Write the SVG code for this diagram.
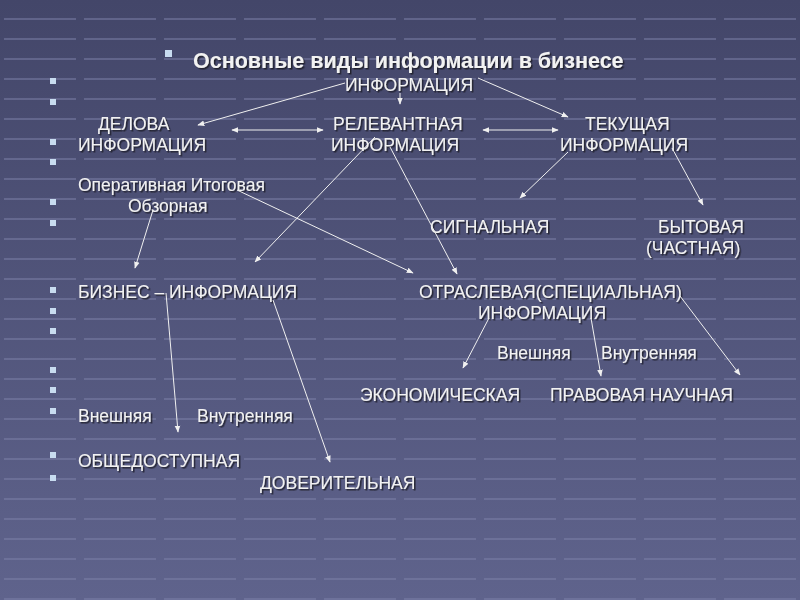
<svg xmlns="http://www.w3.org/2000/svg" width="800" height="600" viewBox="0 0 800 600">
<defs>
<linearGradient id="bg" x1="0" y1="0" x2="0" y2="1"><stop offset="0" stop-color="#434669"/><stop offset="1" stop-color="#5f638c"/></linearGradient>
<pattern id="tiles" width="80" height="20" patternUnits="userSpaceOnUse"><path d="M4 19H76" stroke="#7e82aa" stroke-width="2" opacity="0.5"/></pattern>
<marker id="ah" viewBox="0 0 10 10" refX="9" refY="5" markerWidth="7" markerHeight="7" orient="auto-start-reverse"><path d="M0 1L10 5L0 9z" fill="#f0f0f0"/></marker>
<filter id="sh"><feDropShadow dx="1.5" dy="1.5" stdDeviation="0.5" flood-color="#1a1a2a" flood-opacity="0.9"/></filter>
</defs>
<style>
text{font-family:"Liberation Sans",Arial,sans-serif;font-size:17.5px;fill:#f2f2f2;filter:url(#sh)}
.t{font-size:21.5px;font-weight:bold}
.b{fill:#c8dcf0}
.c{stroke:#f0f0f0;stroke-width:1;fill:none;marker-end:url(#ah)}
.d{marker-start:url(#ah)}
</style>
<rect width="800" height="600" fill="url(#bg)"/>
<rect width="800" height="600" fill="url(#tiles)"/>
<g id="bullets" class="b">
<rect x="165" y="50" width="7" height="7"/>
<rect x="50" y="78" width="6" height="6"/><rect x="50" y="99" width="6" height="6"/><rect x="50" y="139" width="6" height="6"/><rect x="50" y="159" width="6" height="6"/><rect x="50" y="199" width="6" height="6"/><rect x="50" y="220" width="6" height="6"/>
<rect x="50" y="287" width="6" height="6"/><rect x="50" y="308" width="6" height="6"/><rect x="50" y="328" width="6" height="6"/><rect x="50" y="367" width="6" height="6"/><rect x="50" y="387" width="6" height="6"/><rect x="50" y="408" width="6" height="6"/><rect x="50" y="452" width="6" height="6"/><rect x="50" y="475" width="6" height="6"/>
</g>
<g id="title"><text class="t" x="193" y="68">Основные виды информации в бизнесе</text></g>
<g id="n-info"><text x="345" y="91">ИНФОРМАЦИЯ</text></g>
<g id="n-delova"><text x="98" y="130">ДЕЛОВА</text><text x="78" y="151">ИНФОРМАЦИЯ</text></g>
<g id="n-relev"><text x="333" y="130">РЕЛЕВАНТНАЯ</text><text x="331" y="151">ИНФОРМАЦИЯ</text></g>
<g id="n-tek"><text x="585" y="130">ТЕКУЩАЯ</text><text x="560" y="151">ИНФОРМАЦИЯ</text></g>
<g id="n-oper"><text x="78" y="191">Оперативная Итоговая</text><text x="128" y="212">Обзорная</text></g>
<g id="n-sign"><text x="430" y="233">СИГНАЛЬНАЯ</text></g>
<g id="n-byt"><text x="658" y="233">БЫТОВАЯ</text><text x="646" y="254">(ЧАСТНАЯ)</text></g>
<g id="n-biz"><text x="78" y="298">БИЗНЕС – ИНФОРМАЦИЯ</text></g>
<g id="n-otr"><text x="419" y="298">ОТРАСЛЕВАЯ(СПЕЦИАЛЬНАЯ)</text><text x="478" y="319">ИНФОРМАЦИЯ</text></g>
<g id="n-vv2"><text x="497" y="359">Внешняя</text><text x="601" y="359">Внутренняя</text></g>
<g id="n-eco"><text x="360" y="401">ЭКОНОМИЧЕСКАЯ</text><text x="550" y="401">ПРАВОВАЯ НАУЧНАЯ</text></g>
<g id="n-vv1"><text x="78" y="422">Внешняя</text><text x="197" y="422">Внутренняя</text></g>
<g id="n-obsh"><text x="78" y="467">ОБЩЕДОСТУПНАЯ</text></g>
<g id="n-dov"><text x="260" y="489">ДОВЕРИТЕЛЬНАЯ</text></g>
<g id="connectors" class="c">
<path class="c" d="M345 83L198 125"/>
<path class="c" d="M400 93L400 104"/>
<path class="c" d="M478 78L568 117"/>
<path class="c d" d="M232 130L323 130"/>
<path class="c d" d="M483 130L558 130"/>
<path class="c" d="M375 137L255 262"/>
<path class="c" d="M390 147L457 274"/>
<path class="c" d="M237 190L413 273"/>
<path class="c" d="M153 210L135 268"/>
<path class="c" d="M568 152L520 198"/>
<path class="c" d="M672 148L703 205"/>
<path class="c" d="M489 318L463 368"/>
<path class="c" d="M591 318L601 376"/>
<path class="c" d="M680 296L740 375"/>
<path class="c" d="M166 293L178 432"/>
<path class="c" d="M273 300L330 462"/>
</g>
</svg>
